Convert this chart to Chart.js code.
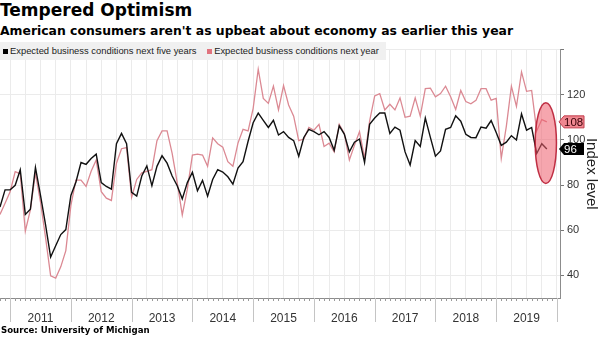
<!DOCTYPE html>
<html>
<head>
<meta charset="utf-8">
<title>Tempered Optimism</title>
<script src="https://cdn.jsdelivr.net/npm/chart.js@4.4.1/dist/chart.umd.min.js"></script>
<style>
body { margin: 0; width: 600px; height: 337px; background: #fff; position: relative; overflow: hidden; font-family: "Liberation Sans", Arial, sans-serif; }
#title { position: absolute; left: 0; top: 0; font: bold 17px "DejaVu Sans", sans-serif; color: #000; white-space: nowrap; }
#subtitle { position: absolute; left: 0; top: 23px; font: bold 12.4px "DejaVu Sans", sans-serif; color: #000; white-space: nowrap; }
#chart-container { position: absolute; left: 0; top: 40px; width: 600px; height: 297px; }
#legend { position: absolute; left: 0; top: 42px; width: 386px; height: 18px; background: #f0f0f0; font-size: 9.4px; line-height: 18px; color: #222; white-space: nowrap; }
#legend .sw { display: inline-block; width: 5px; height: 5px; margin: 0 2px 0 3px; vertical-align: 0; }
#source { position: absolute; left: 1px; top: 325px; font: bold 8.6px "DejaVu Sans", sans-serif; color: #000; white-space: nowrap; }
</style>
</head>
<body>
<div id="title">Tempered Optimism</div>
<div id="subtitle">American consumers aren't as upbeat about economy as earlier this year</div>
<div id="chart-container"><canvas id="myLineChart" width="600" height="297"></canvas></div>
<div id="legend"><span class="sw" style="background:#000"></span>Expected business conditions next five years <span class="sw" style="background:#e0737e;margin-left:8px"></span>Expected business conditions next year</div>
<div id="source">Source: University of Michigan</div>
<script>
// monthly readings, first one is Nov 2010
var nextFiveYears = [
    70.3, 77.9, 77.9, 79.9, 86.8, 67, 69.3, 87.8, 75.4, 62.4, 48.1, 53.1, 58.1, 60.3, 75.4, 81.4, 90, 89.2, 91.8, 93.7,
    81.1, 79.4, 78.2, 98.3, 102.9, 98.3, 76.8, 75.1, 84, 88.5, 79.7, 88.3, 93, 89.7, 84, 79.7, 73.9, 81.1, 85.7,
    77.5, 82.1, 75.1, 82.5, 86.8, 85.8, 83.7, 80.4, 87.5, 90.4, 99.4, 107.6, 111.9, 108.7, 105.5, 108.7, 102.2,
    103.7, 101.1, 99.7, 92.8, 101.1, 104.7, 103.7, 102.3, 103.7, 101.1, 95.4, 106.2, 102.6, 94.7, 99, 100.4, 90,
    106.9, 109.7, 111.9, 111.9, 102.9, 105.7, 104.3, 94.7, 88.9, 99.7, 97.1, 109.7, 101.1, 92.8, 95.1, 104.7, 105.5,
    110.7, 108.3, 102.5, 101.1, 101, 105.7, 105.2, 108.6, 103.3, 97.6, 99, 101.9, 100, 111.5, 104.3, 105.5, 94, 98.3, 96
];
var nextYear = [
    67, 72, 77, 86, 85, 59.6, 69, 85.4, 72.5, 56.7, 39.8, 38.8, 43.8, 51, 71, 82.2, 82.2, 79.4, 86.1, 91.1,
    77.1, 74.2, 73.2, 89.7, 96.1, 96.6, 74.6, 82.5, 85.4, 86.1, 86.8, 99.7, 104, 104, 94, 81.1, 66.8, 78.2, 93.3,
    93.7, 93.3, 88.3, 100.9, 98.3, 96.8, 90.4, 88.3, 98.6, 104.7, 104, 114, 131.3, 118.4, 116.2, 123.8, 113.3,
    124.1, 115.5, 110.5, 99.7, 100.4, 105.5, 104.3, 106.9, 97.1, 98.6, 94.7, 106.9, 102.9, 91.1, 97.6, 103.7, 91.8,
    108.3, 119.5, 120.5, 113.3, 115.8, 113.3, 118.6, 110, 110.5, 118.6, 110.5, 122.7, 122.9, 119.1, 120.5, 123.8, 119.1,
    113.5, 121.9, 117, 116, 117.5, 122.7, 122.7, 117.6, 118.4, 91.8, 106, 123.8, 114.8, 130.1, 121.5, 121.9, 104, 109, 108
];
var yearLabels = ['2011', '2012', '2013', '2014', '2015', '2016', '2017', '2018', '2019'];
var firstJan = 2; // Jan 2011 is two months after the first reading
// the circled stretch at the end (months, index level)
var circled = { from: 105.7, to: 109.9, low: 80.7, high: 116.5 };

function toPoints(arr) {
    return arr.map(function (v, i) { return { x: i, y: v }; });
}

var bottomAxisPlugin = {
    id: 'bottomAxis',
    afterDraw: function (chart) {
        var ctx = chart.ctx, xs = chart.scales.x, area = chart.chartArea;
        ctx.save();
        // monthly ticks
        ctx.strokeStyle = '#9a9a9a';
        ctx.lineWidth = 1;
        ctx.beginPath();
        for (var m = 0; m <= xs.max; m++) {
            var px = Math.round(xs.getPixelForValue(m)) + 0.5;
            ctx.moveTo(px, area.bottom);
            ctx.lineTo(px, area.bottom + 3);
        }
        ctx.stroke();
        // year dividers
        ctx.strokeStyle = '#c4c4c4';
        ctx.beginPath();
        for (var k = 0; k <= yearLabels.length; k++) {
            var dx = Math.round(xs.getPixelForValue(firstJan + 12 * k)) + 0.5;
            ctx.moveTo(dx, area.bottom);
            ctx.lineTo(dx, area.bottom + 24);
        }
        ctx.stroke();
        // year labels
        ctx.fillStyle = '#333';
        ctx.font = '12px "Liberation Sans", Arial, sans-serif';
        ctx.textAlign = 'center';
        ctx.textBaseline = 'middle';
        for (var j = 0; j < yearLabels.length; j++) {
            ctx.fillText(yearLabels[j], xs.getPixelForValue(firstJan + 12 * j + 6), area.bottom + 21);
        }
        ctx.restore();
    }
};

var circlePlugin = {
    id: 'circled',
    afterDatasetsDraw: function (chart) {
        var ctx = chart.ctx, xs = chart.scales.x, ys = chart.scales.y;
        var x1 = xs.getPixelForValue(circled.from), x2 = xs.getPixelForValue(circled.to);
        var y1 = ys.getPixelForValue(circled.high), y2 = ys.getPixelForValue(circled.low);
        ctx.save();
        ctx.beginPath();
        ctx.ellipse((x1 + x2) / 2, (y1 + y2) / 2, (x2 - x1) / 2, (y2 - y1) / 2, 0, 0, Math.PI * 2);
        ctx.fillStyle = 'rgba(238, 92, 108, 0.55)';
        ctx.fill();
        ctx.strokeStyle = 'rgba(185, 30, 52, 0.9)';
        ctx.lineWidth = 1.5;
        ctx.stroke();
        ctx.restore();
    }
};

function drawTag(ctx, x, y, text, fill, stroke, color) {
    var w = 25, h = 12;
    ctx.beginPath();
    ctx.moveTo(x, y);
    ctx.lineTo(x + 5, y - h / 2);
    ctx.lineTo(x + w, y - h / 2);
    ctx.lineTo(x + w, y + h / 2);
    ctx.lineTo(x + 5, y + h / 2);
    ctx.closePath();
    ctx.fillStyle = fill;
    ctx.fill();
    if (stroke) {
        ctx.strokeStyle = stroke;
        ctx.lineWidth = 1;
        ctx.stroke();
    }
    ctx.fillStyle = color;
    ctx.font = '11.5px "Liberation Sans", Arial, sans-serif';
    ctx.textAlign = 'left';
    ctx.textBaseline = 'middle';
    ctx.fillText(text, x + 5, y + 0.5);
}

var lastValuePlugin = {
    id: 'lastValue',
    afterDraw: function (chart) {
        var ctx = chart.ctx, ys = chart.scales.y, x = chart.chartArea.right - 1;
        var vYear = nextYear[nextYear.length - 1];
        var vFive = nextFiveYears[nextFiveYears.length - 1];
        ctx.save();
        drawTag(ctx, x, ys.getPixelForValue(vYear), String(Math.round(vYear)), '#ef8790', '#c23b4a', '#3a0008');
        drawTag(ctx, x, ys.getPixelForValue(vFive), String(Math.round(vFive)), '#000', null, '#fff');
        ctx.restore();
    }
};

Chart.defaults.font.family = '"Liberation Sans", Arial, sans-serif';

var config = {
    type: 'line',
    data: {
        datasets: [{
            label: 'Expected business conditions next five years',
            data: toPoints(nextFiveYears),
            borderColor: '#111',
            borderWidth: 1.4,
            pointRadius: 0,
            fill: false
        }, {
            label: 'Expected business conditions next year',
            data: toPoints(nextYear),
            borderColor: '#db8993',
            borderWidth: 1.3,
            pointRadius: 0,
            fill: false
        }]
    },
    options: {
        responsive: false,
        animation: false,
        elements: { line: { tension: 0 } },
        layout: { padding: { top: 2, left: 0, right: 0, bottom: 0 } },
        plugins: { legend: { display: false }, tooltip: { enabled: false } },
        scales: {
            x: {
                type: 'linear',
                min: 0,
                max: 110.6,
                afterBuildTicks: function (s) {
                    var t = [];
                    for (var p = firstJan; p <= s.max; p += 3) t.push({ value: p });
                    s.ticks = t;
                },
                ticks: { display: false },
                grid: { color: '#ebebeb', drawTicks: false },
                border: { display: true, color: '#8c8c8c' },
                afterFit: function (s) { s.height = 39; }
            },
            y: {
                position: 'right',
                min: 30,
                max: 140,
                ticks: {
                    stepSize: 20,
                    includeBounds: false,
                    color: '#333',
                    padding: 3,
                    font: { size: 11 },
                    callback: function (v) { return v > 130 ? '' : v; }
                },
                grid: { color: '#ebebeb', tickColor: '#777', tickLength: 4 },
                border: { display: true, color: '#8c8c8c' },
                title: { display: true, text: 'Index level', color: '#222', font: { size: 15 }, padding: 0 },
                afterFit: function (s) { s.width = 40; }
            }
        }
    },
    plugins: [bottomAxisPlugin, circlePlugin, lastValuePlugin]
};

var ctx = document.getElementById('myLineChart').getContext('2d');
var myLineChart = new Chart(ctx, config);
</script>
</body>
</html>
